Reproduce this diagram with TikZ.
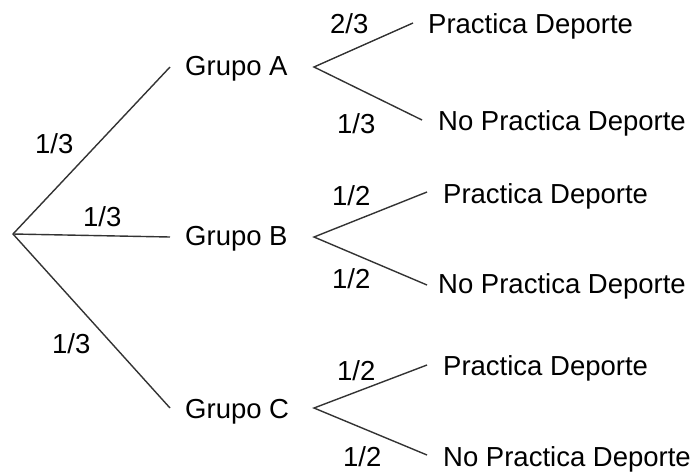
\documentclass[tikz,border=0pt]{standalone}
\usepackage{fontspec}
\setmainfont{Liberation Sans}
\begin{document}
\begin{tikzpicture}[x=1pt,y=-1pt,
  branch/.style={draw=black!80, line width=1.4pt},
  lbl/.style={anchor=base west, inner sep=0pt, font=\fontsize{27.5}{33}\selectfont, text=black}]
\useasboundingbox (0,0) rectangle (695,472);
% junction and end coordinates
\coordinate (root) at (13,234);
\coordinate (ea) at (170,67);
\coordinate (eb) at (170,237);
\coordinate (ec) at (170,408);
\coordinate (va) at (314,67);
\coordinate (vb) at (314,237);
\coordinate (vc) at (314,408);
\coordinate (a1) at (413,23);
\coordinate (a2) at (422,120);
\coordinate (b1) at (427,192);
\coordinate (b2) at (427,285);
\coordinate (c1) at (427,365);
\coordinate (c2) at (427,455);
% texts
\node[lbl] (ga) at (185,75) {Grupo A};
\node[lbl] (gb) at (185,245) {Grupo B};
\node[lbl] (gc) at (185,418) {Grupo C};
\node[lbl] (pa1) at (428,33) {Practica Deporte};
\node[lbl] (pa2) at (438,130) {No Practica Deporte};
\node[lbl] (pb1) at (443,203) {Practica Deporte};
\node[lbl] (pb2) at (438,293) {No Practica Deporte};
\node[lbl] (pc1) at (443,375) {Practica Deporte};
\node[lbl] (pc2) at (443,466) {No Practica Deporte};
% probabilities
\node[lbl] (l1) at (35,153) {1/3};
\node[lbl] (l2) at (83,226) {1/3};
\node[lbl] (l3) at (52,353) {1/3};
\node[lbl] (la1) at (330,33) {2/3};
\node[lbl] (la2) at (337,133) {1/3};
\node[lbl] (lb1) at (332,205) {1/2};
\node[lbl] (lb2) at (332,288) {1/2};
\node[lbl] (lc1) at (337,380) {1/2};
\node[lbl] (lc2) at (343,466) {1/2};
% branches
\draw[branch] (ea) -- (root) -- (ec);
\draw[branch] (root) -- (eb);
\draw[branch] (a1) -- (va) -- (a2);
\draw[branch] (b1) -- (vb) -- (b2);
\draw[branch] (c1) -- (vc) -- (c2);
\end{tikzpicture}
\end{document}
